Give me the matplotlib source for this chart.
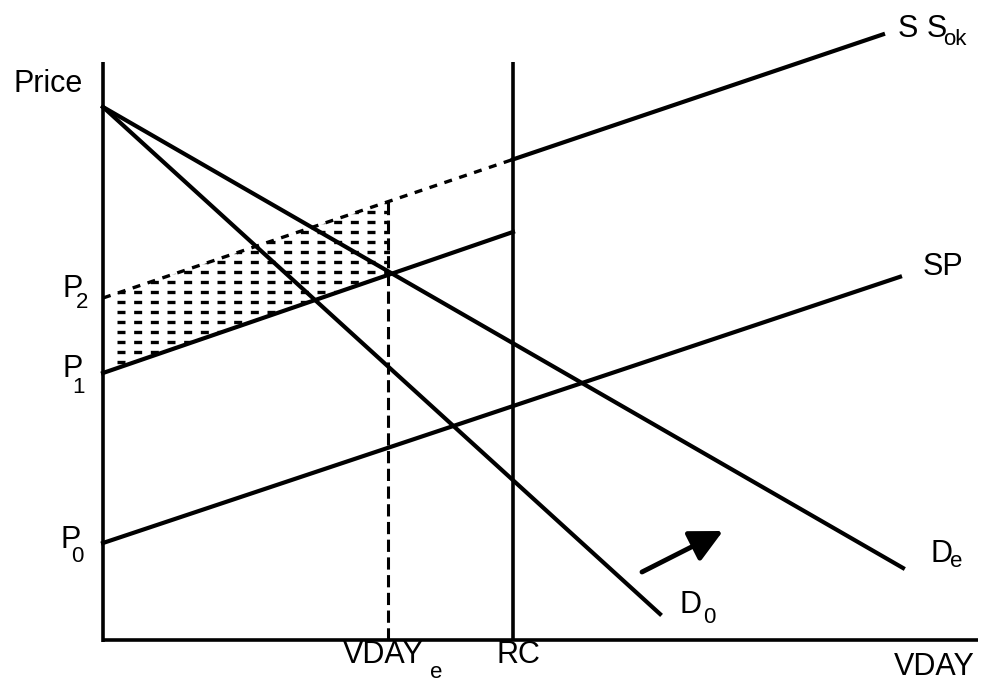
import numpy as np
import matplotlib
matplotlib.use("Agg")
import matplotlib.pyplot as plt
from matplotlib.patches import Polygon
from matplotlib.collections import LineCollection

# price levels on the vertical axis
p0 = 0.97
p1 = 2.67
p2 = 3.42
d_top = 5.33          # common demand intercept

# slopes of the supply curves
ss_slope = 0.338
sp1_slope = 0.344
sp_slope = 0.334

# quantities on the horizontal axis
vday_e = 2.85
rc = 4.10
ss_end = 7.80
sp_end = 7.97

# demand curve end points
d0_end = (5.57, 0.26)
de_end = (8.00, 0.72)

# shift arrow
arrow_tail = (5.39, 0.68)
arrow_head = (6.20, 1.09)

# axis extents
x_axis_end = 8.75
y_axis_top = 5.78

FONT = "Liberation Sans"
BIG = 22
SMALL = 16


def draw():
    fig = plt.figure(figsize=(9.82, 6.85), dpi=100)
    ax = fig.add_axes([0, 0, 1, 1])
    ax.set_xlim(-1.03, 8.79)
    ax.set_ylim(-0.45, 6.40)
    ax.axis("off")

    lw = 3.0
    # axes
    ax.plot([0, 0], [-0.02, y_axis_top], color="k", lw=2.6, solid_capstyle="butt")
    ax.plot([0, x_axis_end], [0, 0], color="k", lw=2.6, solid_capstyle="butt")
    # RC capacity line
    ax.plot([rc, rc], [0, y_axis_top], color="k", lw=2.6, solid_capstyle="butt")

    # demand curves
    ax.plot([0, d0_end[0]], [d_top, d0_end[1]], color="k", lw=lw)
    ax.plot([0, de_end[0]], [d_top, de_end[1]], color="k", lw=lw)

    # SS_ok: dashed up to RC, solid beyond
    ax.plot([0, rc], [p2, p2 + ss_slope * rc], color="k", lw=2.4,
            linestyle=(0, (2.4, 2.3)))
    ax.plot([rc, ss_end], [p2 + ss_slope * rc, p2 + ss_slope * ss_end],
            color="k", lw=lw)

    # supply from P1 up to RC
    ax.plot([0, rc], [p1, p1 + sp1_slope * rc], color="k", lw=lw)

    # SP
    ax.plot([0, sp_end], [p0, p0 + sp_slope * sp_end], color="k", lw=lw)

    # dashed drop line at VDAY_e
    ax.plot([vday_e, vday_e], [0, p2 + ss_slope * vday_e], color="k", lw=2.2,
            linestyle=(0, (4.0, 1.8)))

    # dashed hatching of the area between P1 supply and SS_ok
    poly = Polygon([(0.0, p2), (vday_e + 0.02, p2 + ss_slope * vday_e),
                    (vday_e + 0.02, p1 + sp1_slope * vday_e), (0.0, p1)],
                   closed=True, facecolor="none", edgecolor="none")
    ax.add_patch(poly)
    rows = np.arange(p1 + 0.11, p2 + ss_slope * vday_e, 0.10)
    segs = [[(0.14, y), (vday_e + 0.1, y)] for y in rows]
    hatch = LineCollection(segs, colors="k", linewidths=2.4,
                           linestyles=[(0, (2.4, 2.6))])
    ax.add_collection(hatch)
    hatch.set_clip_path(poly)

    # shift arrow
    ax.annotate("", xy=arrow_head, xytext=arrow_tail,
                arrowprops=dict(arrowstyle="-|>,head_length=0.9,head_width=0.45",
                                lw=3.5, color="k", mutation_scale=22,
                                shrinkA=0, shrinkB=0))

    def txt(x, y, s, size=BIG, ha="left"):
        ax.text(x, y, s, fontsize=size, family=FONT, ha=ha, va="baseline")

    txt(-0.90, 5.48, "Price")
    txt(-0.41, 3.43, "P")
    txt(-0.205, 3.32, "2", SMALL, "center")
    txt(-0.41, 2.63, "P")
    txt(-0.25, 2.47, "1", SMALL, "center")
    txt(-0.43, 0.92, "P")
    txt(-0.255, 0.78, "0", SMALL, "center")

    txt(7.95, 6.03, "S S")
    txt(8.40, 5.95, "ok", SMALL)
    txt(8.20, 3.65, "SP")
    txt(8.27, 0.78, "D")
    txt(8.47, 0.73, "e", SMALL)
    txt(5.77, 0.27, "D")
    txt(6.065, 0.17, "0", SMALL, "center")

    txt(2.40, -0.23, "VDAY")
    txt(3.27, -0.385, "e", SMALL)
    txt(4.15, -0.23, "RC", ha="center")
    txt(8.72, -0.35, "VDAY", ha="right")

    fig.savefig("out.png", dpi=100)


if __name__ == "__main__":
    draw()
